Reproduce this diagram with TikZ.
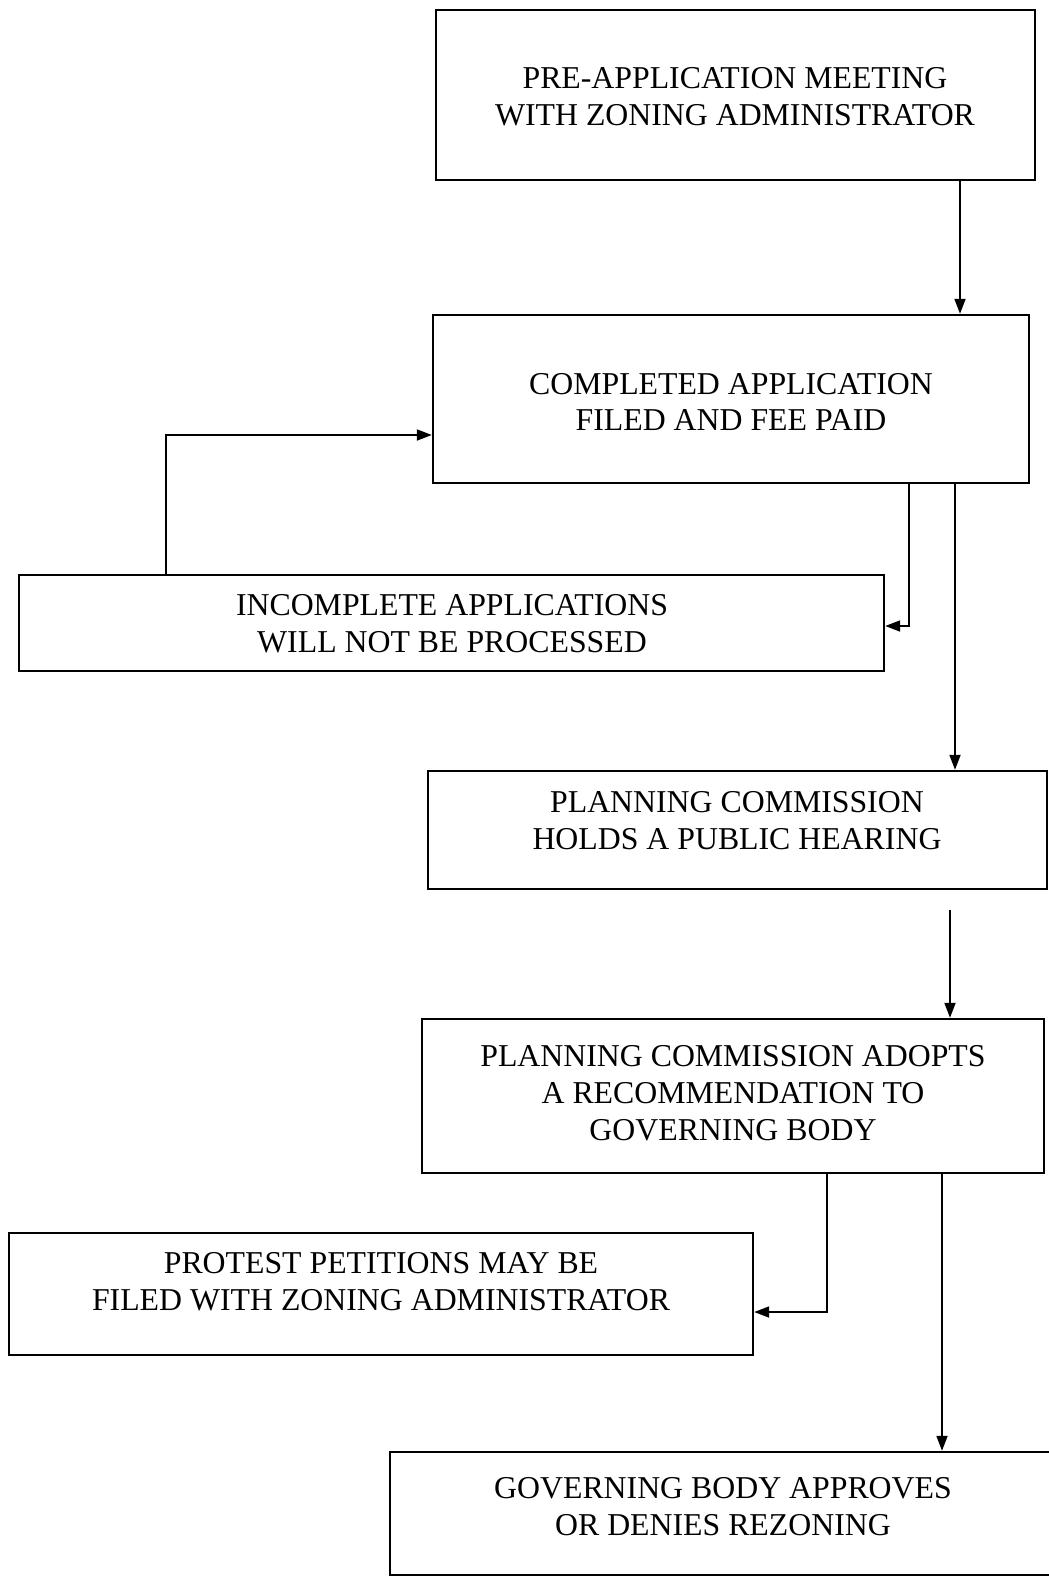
\documentclass[tikz,border=0pt]{standalone}
\usepackage{fontspec}
\setmainfont{Liberation Serif}
\usetikzlibrary{arrows.meta}
\tikzset{
  box/.style={draw, line width=2.4pt, rectangle, inner sep=0pt},
  txt/.style={align=center, inner sep=0pt, font=\fontsize{31.8}{36.8}\selectfont},
  arr/.style={line width=1.9pt, -{Triangle[length=15pt,width=11pt]}}
}
\begin{document}
\begin{tikzpicture}[x=1pt,y=-1pt]
\clip (0,0) rectangle (1049,1579);
\fill[white] (0,0) rectangle (1049,1579);
% boxes
\node[box, minimum width=599pt, minimum height=170pt] (b1) at (735.5,95) {};
\node[box, minimum width=596pt, minimum height=168pt] (b2) at (731,399) {};
\node[box, minimum width=865pt, minimum height=96pt] (b3) at (451.5,623) {};
\node[box, minimum width=619pt, minimum height=118pt] (b4) at (737.5,830) {};
\node[box, minimum width=622pt, minimum height=154pt] (b5) at (733,1096) {};
\node[box, minimum width=744pt, minimum height=122pt] (b6) at (381,1294) {};
\node[box, minimum width=666pt, minimum height=123pt] (b7) at (723,1513.5) {};
% texts
\node[txt] (t1) at (735,97) {PRE-APPLICATION MEETING\\WITH ZONING ADMINISTRATOR};
\node[txt] (t2) at (731,402) {COMPLETED APPLICATION\\FILED AND FEE PAID};
\node[txt] (t3) at (452,624) {INCOMPLETE APPLICATIONS\\WILL NOT BE PROCESSED};
\node[txt] (t4) at (737,821) {PLANNING COMMISSION\\HOLDS A PUBLIC HEARING};
\node[txt] (t5) at (733,1093) {PLANNING COMMISSION ADOPTS\\A RECOMMENDATION TO\\GOVERNING BODY};
\node[txt] (t6) at (381,1282) {PROTEST PETITIONS MAY BE\\FILED WITH ZONING ADMINISTRATOR};
\node[txt] (t7) at (723,1507) {GOVERNING BODY APPROVES\\OR DENIES REZONING};
% connectors
\draw[arr] (b1.south -| 960,0) -- (b2.north -| 960,0);
\draw[arr] (b3.north -| 166,0) |- (b2.west |- 0,435);
\draw[arr] (b2.south -| 909,0) |- (b3.east |- 0,626);
\draw[arr] (b2.south -| 955,0) -- (b4.north -| 955,0);
\draw[arr, shorten <=20pt] (b4.south -| 950,0) -- (b5.north -| 950,0);
\draw[arr] (b5.south -| 827,0) |- (b6.east |- 0,1312);
\draw[arr] (b5.south -| 942,0) -- (b7.north -| 942,0);
\end{tikzpicture}
\end{document}
